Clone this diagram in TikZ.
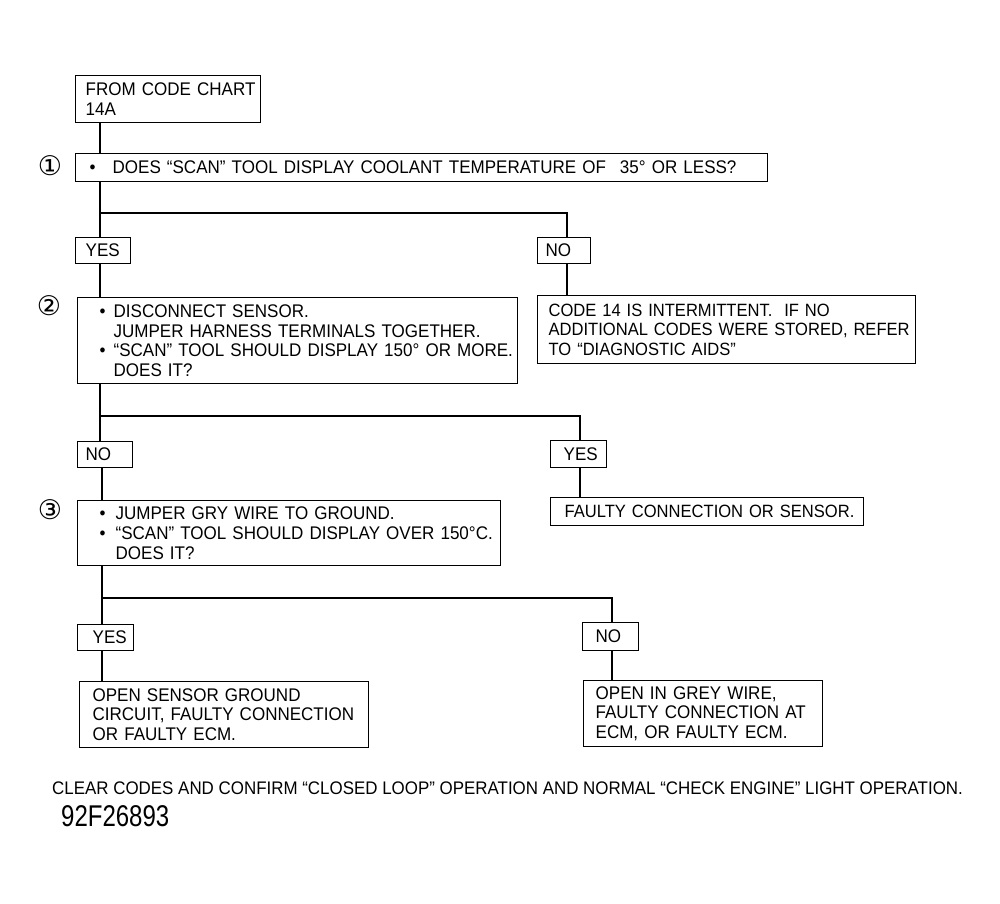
\documentclass[tikz,border=0pt]{standalone}
\usepackage{fontspec}
\setmainfont{Liberation Sans}[FakeStretch=0.93]
\newfontfamily\numfont{Liberation Sans}[FakeStretch=0.80]
\newfontfamily\circfont{DejaVu Sans}
\newcommand\bxfont{\fontsize{18.3}{19.7}\selectfont}
\newcommand\bxsmall{\fontsize{17.8}{19.7}\selectfont}
\newcommand\bulA[1]{\makebox[#1][l]{\textbullet}}
\newcommand\Ind[1]{\hspace*{#1}}
\hfuzz=40pt
\begin{document}
\begin{tikzpicture}[x=1pt,y=-1pt,
  box/.style={draw, line width=1.3pt, anchor=north west, align=left, inner sep=0pt, font=\bxfont},
  conn/.style={line width=1.3pt},
  circ/.style={inner sep=0pt, font=\circfont\fontsize{27}{27}\selectfont}]
\useasboundingbox (0,0) rectangle (1000,903);
\fill[white] (0,0) rectangle (1000,903);

% boxes
\node[box, text width=185pt, minimum height=47pt] (from) at (75,75)
  {\Ind{10pt}FROM CODE CHART\\\Ind{10pt}14A};
\node[box, text width=692pt, minimum height=28pt] (q1) at (75,153)
  {\Ind{14pt}\bulA{23pt}DOES “SCAN” TOOL DISPLAY COOLANT TEMPERATURE OF\hspace{14pt}35° OR LESS?};
\node[box, text width=55pt, minimum height=26pt] (yes1) at (75,237)
  {\Ind{10pt}YES};
\node[box, text width=53pt, minimum height=26pt] (no1) at (537,237)
  {\Ind{8pt}NO};
\node[box, text width=440pt, minimum height=86pt] (q2) at (77,297)
  {\Ind{22pt}\bulA{14pt}DISCONNECT SENSOR.\\\Ind{36pt}JUMPER HARNESS TERMINALS TOGETHER.\\\Ind{22pt}\bulA{14pt}“SCAN” TOOL SHOULD DISPLAY 150° OR MORE.\\\Ind{36pt}DOES IT?};
\node[box, font=\bxsmall, text width=378pt, minimum height=68pt] (int) at (537,295)
  {\Ind{11pt}\mbox{CODE 14 IS INTERMITTENT.\ \ IF NO}\\\Ind{11pt}\mbox{ADDITIONAL CODES WERE STORED, REFER}\\\Ind{11pt}\mbox{TO “DIAGNOSTIC AIDS”}};
\node[box, text width=55pt, minimum height=26pt] (no2) at (77,441)
  {\Ind{8pt}NO};
\node[box, text width=56pt, minimum height=27pt] (yes2) at (550,440)
  {\Ind{13pt}YES};
\node[box, font=\bxsmall, text width=313pt, minimum height=28pt] (faulty) at (550,497)
  {\Ind{14pt}\mbox{FAULTY CONNECTION OR SENSOR.}};
\node[box, text width=423pt, minimum height=65pt] (q3) at (77,500)
  {\Ind{22pt}\bulA{16pt}JUMPER GRY WIRE TO GROUND.\\\Ind{22pt}\bulA{16pt}“SCAN” TOOL SHOULD DISPLAY OVER 150°C.\\\Ind{38pt}DOES IT?};
\node[box, text width=56pt, minimum height=26pt] (yes3) at (77,624)
  {\Ind{15pt}YES};
\node[box, text width=289pt, minimum height=66pt] (gnd) at (79,681)
  {\Ind{13pt}OPEN SENSOR GROUND\\\Ind{13pt}CIRCUIT, FAULTY CONNECTION\\\Ind{13pt}OR FAULTY ECM.};
\node[box, text width=56pt, minimum height=28pt] (no3) at (582,622)
  {\Ind{13pt}NO};
\node[box, text width=239pt, minimum height=66pt] (grey) at (583,680)
  {\Ind{12pt}OPEN IN GREY WIRE,\\\Ind{12pt}FAULTY CONNECTION AT\\\Ind{12pt}ECM, OR FAULTY ECM.};

% step numbers
\node[circ] (n1) at (50,166) {①};
\node[circ] (n2) at (49,306) {②};
\node[circ] (n3) at (50,510) {③};

% connector guides
\coordinate (xa) at (100,0);
\coordinate (xb) at (102,0);
\coordinate (xc) at (567,0);
\coordinate (xd) at (580,0);
\coordinate (xe) at (612,0);
\coordinate (ya) at (0,213);
\coordinate (yb) at (0,416);
\coordinate (yc) at (0,598);

\draw[conn] (from.south -| xa) -- (q1.north -| xa);
\draw[conn] (q1.south -| xa) -- (yes1.north -| xa);
\draw[conn] (xa |- ya) -| (no1.north -| xc);
\draw[conn] (yes1.south -| xa) -- (q2.north -| xa);
\draw[conn] (no1.south -| xc) -- (int.north -| xc);
\draw[conn] (q2.south -| xa) -- (no2.north -| xa);
\draw[conn] (xa |- yb) -| (yes2.north -| xd);
\draw[conn] (yes2.south -| xd) -- (faulty.north -| xd);
\draw[conn] (no2.south -| xb) -- (q3.north -| xb);
\draw[conn] (q3.south -| xb) -- (yes3.north -| xb);
\draw[conn] (xb |- yc) -| (no3.north -| xe);
\draw[conn] (yes3.south -| xb) -- (gnd.north -| xb);
\draw[conn] (no3.south -| xe) -- (grey.north -| xe);

% footer
\node[anchor=base west, inner sep=0pt, font=\fontsize{18.2}{20}\selectfont] (clear) at (52,794)
  {CLEAR CODES AND CONFIRM “CLOSED LOOP” OPERATION AND NORMAL “CHECK ENGINE” LIGHT OPERATION.};
\node[anchor=base west, inner sep=0pt, font=\numfont\fontsize{30}{30}\selectfont] (fig) at (61,826)
  {92F26893};
\end{tikzpicture}
\end{document}
